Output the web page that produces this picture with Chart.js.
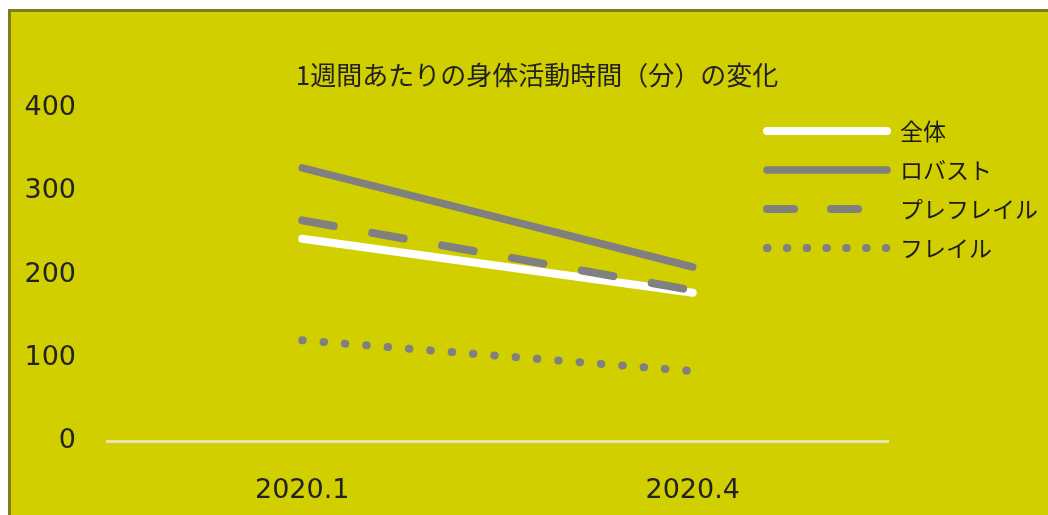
<!DOCTYPE html>
<html>
<head>
<meta charset="utf-8">
<script src="https://cdn.jsdelivr.net/npm/chart.js@4.4.1/dist/chart.umd.min.js"></script>
<style>
  html, body { margin: 0; padding: 0; background: #ffffff; }
  #wrap { width: 1048px; height: 515px; position: relative; }
</style>
</head>
<body>
<div id="wrap"><canvas id="c" width="1048" height="515"></canvas></div>
<script>
const titleText = '1週間あたりの身体活動時間（分）の変化';
const categories = ['2020.1', '2020.4'];
const seriesNames = ['全体', 'ロバスト', 'プレフレイル', 'フレイル'];
const zentai = [243, 178];
const robust = [328, 209];
const prefrail = [265, 181];
const frail = [121, 84];
const yTicks = [0, 100, 200, 300, 400];

const GRAY = '#808080';
const BG = '#D1CF00';
const legendDash = [[], [], [27, 37], [0.5, 19.3]];

const bgPlugin = {
  id: 'bg',
  beforeDraw(chart) {
    const ctx = chart.ctx;
    ctx.save();
    ctx.fillStyle = '#ffffff';
    ctx.fillRect(0, 0, chart.width, chart.height);
    ctx.fillStyle = '#7e7c1c';
    ctx.fillRect(8, 9, chart.width, chart.height);
    ctx.fillStyle = BG;
    ctx.fillRect(11, 12, chart.width, chart.height);
    ctx.restore();
  },
  afterDraw(chart) {
    const ctx = chart.ctx;
    ctx.save();
    // title
    ctx.fillStyle = '#222222';
    ctx.font = '26px "Noto Sans CJK JP"';
    ctx.textAlign = 'center';
    ctx.textBaseline = 'middle';
    ctx.fillText(titleText, 537, 75);
    // legend
    const ys = [131, 170, 209, 248];
    chart.data.datasets.forEach((ds, i) => {
      const y = ys[i];
      ctx.save();
      ctx.strokeStyle = ds.borderColor;
      ctx.lineWidth = ds.borderWidth;
      ctx.lineCap = 'round';
      ctx.setLineDash(legendDash[i]);
      ctx.beginPath();
      ctx.moveTo(767, y);
      ctx.lineTo(887, y);
      ctx.stroke();
      ctx.restore();
      ctx.fillStyle = '#1a1a1a';
      ctx.font = '23px "Noto Sans CJK JP"';
      ctx.textAlign = 'left';
      ctx.textBaseline = 'middle';
      ctx.fillText(ds.label, 900, y);
    });
    ctx.restore();
  }
};

const mk = (label, data, color, width, dash, order) => ({
  label, data, borderColor: color, backgroundColor: color,
  borderWidth: width, borderDash: dash, borderCapStyle: 'round',
  pointRadius: 0, pointHoverRadius: 0, tension: 0, fill: false, order
});

new Chart(document.getElementById('c'), {
  type: 'line',
  data: {
    labels: categories,
    datasets: [
      mk(seriesNames[0], zentai, '#ffffff', 8, [], 2),
      mk(seriesNames[1], robust, GRAY, 7.5, [], 1),
      mk(seriesNames[2], prefrail, GRAY, 8, [32, 39], 0),
      mk(seriesNames[3], frail, GRAY, 8, [0.5, 20.9], 1)
    ]
  },
  plugins: [bgPlugin],
  options: {
    responsive: false,
    animation: false,
    devicePixelRatio: 1,
    layout: { padding: { top: 108, right: 160, bottom: 0, left: 0 } },
    plugins: {
      legend: { display: false },
      title: { display: false },
      tooltip: { enabled: false }
    },
    scales: {
      x: {
        offset: true,
        grid: { display: false },
        border: { display: true, color: '#E8E6B0', width: 3 },
        ticks: { color: '#222222', font: { family: 'DejaVu Sans', size: 27 }, padding: 26 },
        afterFit(s) { s.height = 74; }
      },
      y: {
        min: 0, max: 400,
        afterBuildTicks(s) { s.ticks = yTicks.map(v => ({ value: v })); },
        grid: { display: false, drawTicks: false },
        border: { display: false },
        ticks: { color: '#222222', font: { family: 'DejaVu Sans', size: 27 }, padding: 31 },
        afterFit(s) { s.width = 107; }
      }
    }
  }
});
</script>
</body>
</html>
